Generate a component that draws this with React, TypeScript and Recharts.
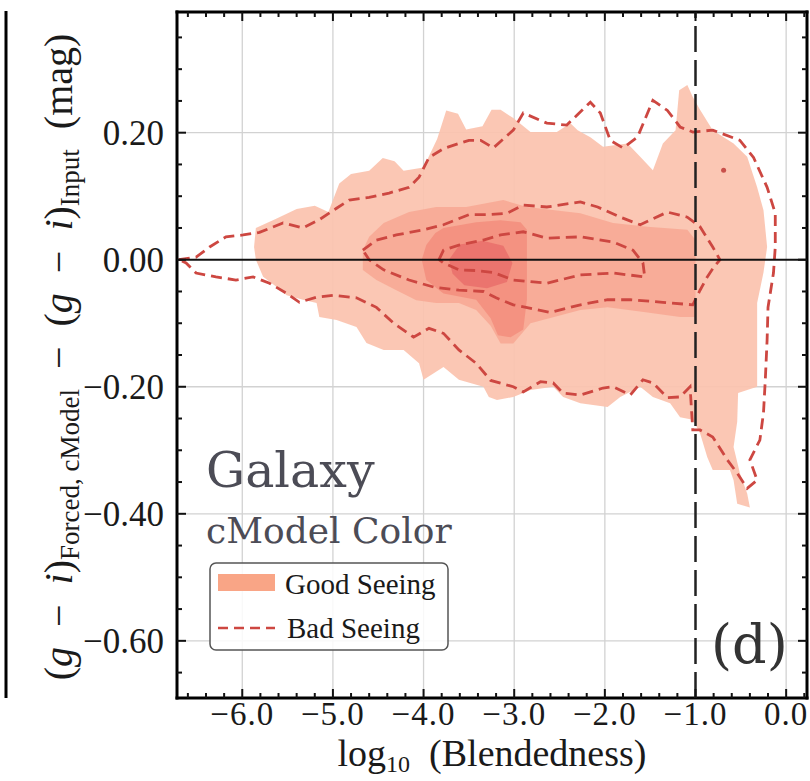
import React from "react"
import { ComposedChart, XAxis, YAxis, Scatter, ReferenceLine } from "recharts"

// axes
const xDomain = [-6.72, 0.23]
const yDomain = [-0.69, 0.39]
const xMajor = [-6, -5, -4, -3, -2, -1, 0]
const xTicks = [
  -6.6, -6.4, -6.2, -6.0, -5.8, -5.6, -5.4, -5.2, -5.0, -4.8, -4.6, -4.4, -4.2,
  -4.0, -3.8, -3.6, -3.4, -3.2, -3.0, -2.8, -2.6, -2.4, -2.2, -2.0, -1.8, -1.6,
  -1.4, -1.2, -1.0, -0.8, -0.6, -0.4, -0.2, 0.0, 0.2,
]
const yMajor = [-0.6, -0.4, -0.2, 0, 0.2]
const yTicks = [
  -0.65, -0.6, -0.55, -0.5, -0.45, -0.4, -0.35, -0.3, -0.25, -0.2, -0.15, -0.1,
  -0.05, 0, 0.05, 0.1, 0.15, 0.2, 0.25, 0.3, 0.35,
]
const xGrid = [-6, -5, -4, -3, -2, 0]
const yGrid = [-0.6, -0.4, -0.2, 0.2]
const blendCut = -1

// good seeing: filled contour levels (outer -> core), [log10 blendedness, delta colour]
const goodOuter = [
  [-5.87, 0.02], [-5.85, 0.05], [-5.62, 0.065], [-5.4, 0.08], [-5.2, 0.085], [-5.05, 0.075],
  [-4.93, 0.12], [-4.8, 0.135], [-4.6, 0.14], [-4.45, 0.16], [-4.32, 0.155], [-4.22, 0.14],
  [-4.0, 0.145], [-3.85, 0.19], [-3.75, 0.235], [-3.62, 0.23], [-3.53, 0.205], [-3.35, 0.21],
  [-3.25, 0.236], [-3.15, 0.236], [-3.01, 0.223], [-2.82, 0.201], [-2.53, 0.201], [-2.38, 0.215],
  [-2.3, 0.204], [-2.16, 0.193], [-2.02, 0.178], [-1.75, 0.183], [-1.61, 0.162], [-1.47, 0.141],
  [-1.36, 0.183], [-1.22, 0.204], [-1.18, 0.267], [-1.09, 0.275], [-1.03, 0.256], [-0.95, 0.236],
  [-0.81, 0.204], [-0.58, 0.183], [-0.43, 0.162], [-0.32, 0.114], [-0.25, 0.078], [-0.21, 0.02],
  [-0.25, -0.02], [-0.32, -0.068], [-0.32, -0.2], [-0.53, -0.21], [-0.54, -0.255], [-0.58, -0.295],
  [-0.51, -0.336], [-0.43, -0.368], [-0.4, -0.39], [-0.54, -0.384], [-0.58, -0.347], [-0.62, -0.331],
  [-0.81, -0.331], [-0.87, -0.311], [-0.95, -0.273], [-1.03, -0.252], [-1.17, -0.248], [-1.28, -0.226],
  [-1.47, -0.216], [-1.61, -0.2], [-1.83, -0.216], [-1.97, -0.232], [-2.27, -0.226], [-2.46, -0.216],
  [-2.57, -0.2], [-2.82, -0.205], [-3.01, -0.216], [-3.19, -0.221], [-3.28, -0.216], [-3.34, -0.2],
  [-3.61, -0.189], [-3.78, -0.169], [-4.0, -0.189], [-4.05, -0.163], [-4.22, -0.142], [-4.44, -0.142],
  [-4.63, -0.131], [-4.74, -0.106], [-4.96, -0.095], [-5.15, -0.09], [-5.18, -0.068], [-5.33, -0.063],
  [-5.51, -0.056], [-5.62, -0.043], [-5.77, -0.027], [-5.85, 0.0],
]
const goodMid = [
  [-4.67, 0.015], [-4.6, 0.036], [-4.44, 0.058], [-4.16, 0.075], [-3.86, 0.083], [-3.53, 0.083],
  [-3.12, 0.094], [-2.86, 0.083], [-2.27, 0.073], [-1.91, 0.058], [-1.53, 0.052], [-1.09, 0.047],
  [-1.0, 0.031], [-1.0, -0.09], [-1.17, -0.09], [-1.53, -0.083], [-1.97, -0.075], [-2.27, -0.079],
  [-2.82, -0.1], [-3.01, -0.132], [-3.15, -0.132], [-3.26, -0.104], [-3.42, -0.079], [-3.61, -0.068],
  [-3.86, -0.068], [-4.08, -0.064], [-4.3, -0.048], [-4.52, -0.032], [-4.67, -0.016],
]
const goodDark = [
  [-4.02, 0.0], [-3.97, 0.023], [-3.87, 0.042], [-3.78, 0.05], [-3.42, 0.059], [-3.15, 0.062],
  [-2.93, 0.059], [-2.86, 0.047], [-2.86, -0.063], [-2.9, -0.11], [-3.04, -0.122], [-3.18, -0.119],
  [-3.26, -0.092], [-3.42, -0.063], [-3.78, -0.053], [-3.97, -0.032],
]
const goodCore = [
  [-3.72, 0.0], [-3.6, 0.024], [-3.35, 0.03], [-3.12, 0.022], [-3.02, -0.005], [-3.08, -0.035],
  [-3.3, -0.045], [-3.55, -0.04], [-3.68, -0.022],
]
const goodSpeck = [[-0.69, 0.141]]

// bad seeing: dashed contour levels
const badOuter = [
  [-6.7, 0.0], [-6.51, 0.004], [-6.36, 0.02], [-6.18, 0.036], [-5.99, 0.039], [-5.81, 0.043],
  [-5.55, 0.058], [-5.33, 0.05], [-5.15, 0.063], [-4.96, 0.081], [-4.82, 0.094], [-4.6, 0.098],
  [-4.38, 0.105], [-4.16, 0.114], [-4.05, 0.13], [-3.94, 0.161], [-3.78, 0.175], [-3.61, 0.183],
  [-3.5, 0.188], [-3.37, 0.188], [-3.23, 0.176], [-3.01, 0.204], [-2.9, 0.231], [-2.64, 0.215],
  [-2.42, 0.212], [-2.16, 0.248], [-2.05, 0.231], [-1.94, 0.188], [-1.8, 0.176], [-1.64, 0.193],
  [-1.47, 0.251], [-1.31, 0.235], [-1.17, 0.209], [-1.03, 0.201], [-0.81, 0.204], [-0.51, 0.188],
  [-0.36, 0.161], [-0.21, 0.114], [-0.12, 0.073], [-0.12, 0.02], [-0.14, -0.021], [-0.2, -0.075],
  [-0.21, -0.126], [-0.23, -0.189], [-0.25, -0.241], [-0.29, -0.284], [-0.4, -0.315], [-0.32, -0.347],
  [-0.43, -0.36], [-0.54, -0.336], [-0.65, -0.315], [-0.81, -0.279], [-0.95, -0.268], [-1.03, -0.268],
  [-1.06, -0.2], [-1.17, -0.216], [-1.31, -0.217], [-1.47, -0.194], [-1.58, -0.189], [-1.72, -0.213],
  [-1.91, -0.2], [-2.02, -0.202], [-2.27, -0.213], [-2.46, -0.21], [-2.57, -0.194], [-2.71, -0.192],
  [-2.9, -0.208], [-3.01, -0.2], [-3.26, -0.19], [-3.42, -0.163], [-3.61, -0.142], [-3.78, -0.116],
  [-3.94, -0.108], [-4.11, -0.122], [-4.33, -0.1], [-4.52, -0.075], [-4.74, -0.06], [-5.0, -0.056],
  [-5.18, -0.059], [-5.37, -0.067], [-5.51, -0.053], [-5.7, -0.037], [-5.88, -0.027], [-6.07, -0.032],
  [-6.29, -0.027], [-6.51, -0.021], [-6.62, -0.005], [-6.7, 0.0],
]
const badMid = [
  [-4.67, 0.015], [-4.52, 0.031], [-4.3, 0.039], [-4.0, 0.047], [-3.78, 0.055], [-3.5, 0.071],
  [-3.28, 0.071], [-3.08, 0.073], [-2.9, 0.086], [-2.64, 0.083], [-2.27, 0.091], [-2.08, 0.083],
  [-1.83, 0.067], [-1.61, 0.055], [-1.31, 0.075], [-1.09, 0.067], [-0.95, 0.052], [-0.81, 0.02],
  [-0.73, 0.0], [-0.79, -0.01], [-0.87, -0.027], [-0.95, -0.048], [-1.03, -0.071], [-1.36, -0.067],
  [-1.72, -0.063], [-1.97, -0.063], [-2.27, -0.071], [-2.6, -0.083], [-3.01, -0.071], [-3.2, -0.06],
  [-3.34, -0.05], [-3.61, -0.048], [-3.89, -0.043], [-4.16, -0.032], [-4.44, -0.016], [-4.6, 0.0],
  [-4.67, 0.015],
]
const badInner = [
  [-3.83, 0.0], [-3.78, 0.015], [-3.61, 0.023], [-3.34, 0.031], [-3.15, 0.039], [-2.9, 0.044],
  [-2.64, 0.034], [-2.27, 0.036], [-1.91, 0.028], [-1.69, 0.015], [-1.58, -0.005], [-1.56, -0.027],
  [-1.91, -0.021], [-2.27, -0.024], [-2.64, -0.037], [-3.01, -0.032], [-3.23, -0.02], [-3.42, -0.017],
  [-3.61, -0.016], [-3.78, -0.005], [-3.83, 0.0],
]

const fillColors = ["#fbc3ae", "#f8aa96", "#f3907f", "#ea726d"]
const dashColor = "#cd4741"
const SERIF = '"Liberation Serif", "Times New Roman", serif'
const WIDE_SERIF = '"DejaVu Serif", serif'

const toPoints = (c: number[][]) => c.map(([x, y]) => ({ x, y }))
const closed = (c: number[][]) => toPoints([...c, c[0]])
const near = (list: number[], v: number) => list.some((m) => Math.abs(m - v) < 1e-6)
const minus = (v: number) => (v < -1e-9 ? "\u2212" : "")

const NoDot = () => <g />
const Speck = (p: any) => <circle cx={p.cx} cy={p.cy} r={2.5} fill="#c8504a" />

const tickStroke = { stroke: "#111", strokeWidth: 2 }

function BottomTick({ x, y, payload }: any) {
  const major = near(xMajor, payload.value)
  return (
    <g>
      <line x1={x} x2={x} y1={y} y2={y - (major ? 9 : 5)} {...tickStroke} />
      {major && (
        <text x={x} y={y + 27} textAnchor="middle" fontFamily={SERIF} fontSize={33} letterSpacing={1} fill="#1a1a1a">
          {minus(payload.value) + Math.abs(payload.value).toFixed(1)}
        </text>
      )}
    </g>
  )
}

function TopTick({ x, y, payload }: any) {
  const major = near(xMajor, payload.value)
  return <line x1={x} x2={x} y1={y} y2={y + (major ? 9 : 5)} {...tickStroke} />
}

function LeftTick({ x, y, payload }: any) {
  const major = near(yMajor, payload.value)
  return (
    <g>
      <line x1={x} x2={x + (major ? 9 : 5)} y1={y} y2={y} {...tickStroke} />
      {major && (
        <text x={x - 13} y={y + 12} textAnchor="end" fontFamily={SERIF} fontSize={35} fill="#1a1a1a">
          {minus(payload.value) + Math.abs(payload.value).toFixed(2)}
        </text>
      )}
    </g>
  )
}

function RightTick({ x, y, payload }: any) {
  const major = near(yMajor, payload.value)
  return <line x1={x} x2={x - (major ? 9 : 5)} y1={y} y2={y} {...tickStroke} />
}

const frame = { stroke: "#000", strokeWidth: 3, strokeLinecap: "square" as const }

function Annotations() {
  return (
    <svg
      width={810}
      height={781}
      style={{ position: "absolute", left: 0, top: 0, pointerEvents: "none" }}
    >
      {/* edge of the neighbouring panel */}
      <line x1={6} x2={6} y1={11} y2={698} stroke="#000" strokeWidth={3} />

      <text
        transform="rotate(-90)"
        x={-357}
        y={72}
        textAnchor="middle"
        fontFamily={SERIF}
        fontSize={40}
        fill="#1a1a1a"
      >
        <tspan>(</tspan>
        <tspan fontStyle="italic">g</tspan>
        <tspan>{"\u2002\u2212\u2002"}</tspan>
        <tspan fontStyle="italic">i</tspan>
        <tspan>)</tspan>
        <tspan fontSize={27} dy={7}>Forced, cModel</tspan>
        <tspan dy={-7}>{"\u2002\u2212\u2002("}</tspan>
        <tspan fontStyle="italic">g</tspan>
        <tspan>{"\u2002\u2212\u2002"}</tspan>
        <tspan fontStyle="italic">i</tspan>
        <tspan>)</tspan>
        <tspan fontSize={27} dy={7}>Input</tspan>
        <tspan dy={-7}>{"\u2002(mag)"}</tspan>
      </text>

      <text x={492} y={766} textAnchor="middle" fontFamily={SERIF} fontSize={38} fill="#1a1a1a">
        <tspan>log</tspan>
        <tspan fontSize={24} dy={6}>10</tspan>
        <tspan dy={-6}>{"\u2002(Blendedness)"}</tspan>
      </text>

      <text x={206} y={487} fontFamily={WIDE_SERIF} fontSize={49} fill="#4c4c56">
        Galaxy
      </text>
      <text x={206} y={543} fontFamily={WIDE_SERIF} fontSize={36} fill="#4c4c56">
        cModel Color
      </text>

      <rect x={210} y={563} width={238} height={87} rx={6} fill="#fff" fillOpacity={0.85} stroke="#555" strokeWidth={1.5} />
      <rect x={218} y={574} width={57} height={17} fill="#f9a586" />
      <text x={285} y={594} fontFamily={SERIF} fontSize={29} fill="#1a1a1a">
        Good Seeing
      </text>
      <line x1={218} x2={275} y1={628} y2={628} stroke={dashColor} strokeWidth={2.5} strokeDasharray="10 6" />
      <text x={287} y={638} fontFamily={SERIF} fontSize={29} fill="#1a1a1a">
        Bad Seeing
      </text>

      <text x={711} y={663} fontFamily={WIDE_SERIF} fontSize={54} fill="#333">
        (d)
      </text>
    </svg>
  )
}

export default function App() {
  const fills = [goodOuter, goodMid, goodDark, goodCore]
  const dashed = [badOuter, badMid, badInner]
  return (
    <div style={{ position: "absolute", left: 0, top: 0, width: 810, height: 781, background: "#fff" }}>
      <ComposedChart width={810} height={781} margin={{ top: 0, right: 0, bottom: 0, left: 0 }}>
        <XAxis
          xAxisId="b"
          orientation="bottom"
          type="number"
          dataKey="x"
          domain={xDomain}
          ticks={xTicks}
          interval={0}
          allowDataOverflow
          height={83}
          tickSize={0}
          tickMargin={0}
          tickLine={false}
          axisLine={frame}
          tick={<BottomTick />}
        />
        <XAxis
          xAxisId="t"
          orientation="top"
          type="number"
          dataKey="x"
          domain={xDomain}
          ticks={xTicks}
          interval={0}
          allowDataOverflow
          height={12}
          tickSize={0}
          tickMargin={0}
          tickLine={false}
          axisLine={frame}
          tick={<TopTick />}
        />
        <YAxis
          yAxisId="l"
          orientation="left"
          type="number"
          dataKey="y"
          domain={yDomain}
          ticks={yTicks}
          interval={0}
          allowDataOverflow
          width={177}
          tickSize={0}
          tickMargin={0}
          tickLine={false}
          axisLine={frame}
          tick={<LeftTick />}
        />
        <YAxis
          yAxisId="r"
          orientation="right"
          type="number"
          dataKey="y"
          domain={yDomain}
          ticks={yTicks}
          interval={0}
          allowDataOverflow
          width={3}
          tickSize={0}
          tickMargin={0}
          tickLine={false}
          axisLine={frame}
          tick={<RightTick />}
        />

        {xGrid.map((v) => (
          <ReferenceLine key={"gx" + v} xAxisId="b" yAxisId="l" x={v} stroke="#d2d2d2" strokeWidth={1.3} zIndex={-100} />
        ))}
        {yGrid.map((v) => (
          <ReferenceLine key={"gy" + v} xAxisId="b" yAxisId="l" y={v} stroke="#d2d2d2" strokeWidth={1.3} zIndex={-100} />
        ))}

        {fills.map((c, i) => (
          <Scatter
            key={"good" + i}
            xAxisId="b"
            yAxisId="l"
            data={closed(c)}
            shape={<NoDot />}
            line={{ fill: fillColors[i], fillOpacity: 0.93, stroke: "none" }}
            isAnimationActive={false}
          />
        ))}
        <Scatter
          xAxisId="t"
          yAxisId="r"
          data={toPoints(goodSpeck)}
          shape={<Speck />}
          isAnimationActive={false}
        />
        {dashed.map((c, i) => (
          <Scatter
            key={"bad" + i}
            xAxisId="b"
            yAxisId="l"
            data={closed(c)}
            shape={<NoDot />}
            line={{ fill: "none", stroke: dashColor, strokeWidth: 2.8, strokeDasharray: "11 6" }}
            isAnimationActive={false}
          />
        ))}

        <ReferenceLine xAxisId="b" yAxisId="l" y={0} stroke="#111" strokeWidth={2} zIndex={1500} />
        <ReferenceLine
          xAxisId="b"
          yAxisId="l"
          x={blendCut}
          stroke="#222"
          strokeWidth={2.5}
          strokeDasharray="26 8"
          zIndex={1500}
        />
      </ComposedChart>
      <Annotations />
    </div>
  )
}
